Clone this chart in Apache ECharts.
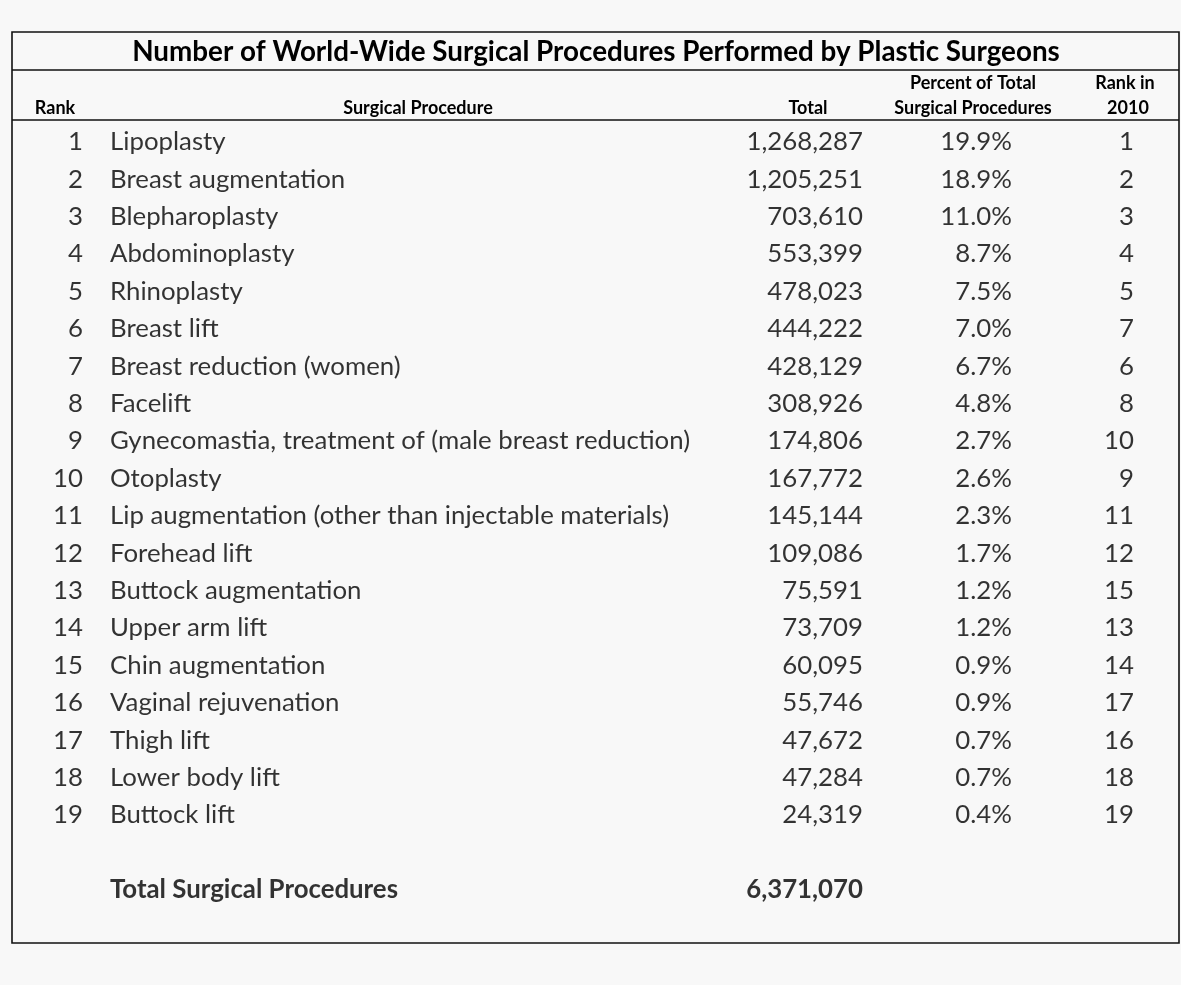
<!DOCTYPE html>
<html lang="en">
<head>
    <meta charset="UTF-8">
    <title>Surgical Procedures</title>
    <script src="https://cdn.jsdelivr.net/npm/echarts@6/dist/echarts.min.js"></script>
    <style>
        html, body { margin: 0; padding: 0; background: #f8f8f8; }
        #table_chart { width: 1181px; height: 985px; }
    </style>
</head>
<body>
    <div id="table_chart"></div>
    <script type="text/javascript">
        // table data
        var ranks = [1, 2, 3, 4, 5, 6, 7, 8, 9, 10, 11, 12, 13, 14, 15, 16, 17, 18, 19];
        var procedures = [
            'Lipoplasty', 'Breast augmentation', 'Blepharoplasty', 'Abdominoplasty', 'Rhinoplasty',
            'Breast lift', 'Breast reduction (women)', 'Facelift',
            'Gynecomastia, treatment of (male breast reduction)', 'Otoplasty',
            'Lip augmentation (other than injectable materials)', 'Forehead lift',
            'Buttock augmentation', 'Upper arm lift', 'Chin augmentation', 'Vaginal rejuvenation',
            'Thigh lift', 'Lower body lift', 'Buttock lift'
        ];
        var totals = [1268287, 1205251, 703610, 553399, 478023, 444222, 428129, 308926, 174806,
            167772, 145144, 109086, 75591, 73709, 60095, 55746, 47672, 47284, 24319];
        var percents = [19.9, 18.9, 11.0, 8.7, 7.5, 7.0, 6.7, 4.8, 2.7, 2.6, 2.3, 1.7, 1.2, 1.2,
            0.9, 0.9, 0.7, 0.7, 0.4];
        var rank2010 = [1, 2, 3, 4, 5, 7, 6, 8, 10, 9, 11, 12, 15, 13, 14, 17, 16, 18, 19];
        var totalLabel = 'Total Surgical Procedures';
        var grandTotal = 6371070;

        // rows: 19 procedures, one empty row, then the total row
        var rowNames = ranks.map(String).concat(['', 'total']);
        var totalRow = rowNames.length - 1;

        var font = 'Lato, "Open Sans", sans-serif';
        var fmt = function (v) { return v.toLocaleString('en-US'); };

        // x position of each column (pixels across the page)
        var colRank = 83, colProc = 110, colTotal = 863, colPct = 1012, colRank10 = 1134;

        function textSeries(name, x, texts, align, bold) {
            return {
                name: name,
                type: 'scatter',
                symbolSize: 1,
                itemStyle: { color: 'transparent' },
                silent: true,
                data: texts.map(function (t) { return { value: [x, t.row], txt: t.text }; }),
                label: {
                    show: true,
                    position: 'inside',
                    align: align,
                    verticalAlign: 'middle',
                    color: '#000',
                    fontFamily: font,
                    fontSize: 25.8,
                    fontWeight: bold ? 'bold' : 'normal',
                    formatter: function (p) { return p.data.txt; }
                }
            };
        }

        function rowsOf(arr, f) {
            return arr.map(function (v, i) { return { row: i, text: f(v) }; });
        }

        var myChart = echarts.init(document.getElementById('table_chart'));

        var hdr = 'bold 18px ' + font;
        function hdrText(x, y, txt) {
            return { type: 'text', x: x, y: y, style: { text: txt, font: hdr, fill: '#000',
                textAlign: 'center', textVerticalAlign: 'middle' } };
        }
        var option = {
            backgroundColor: '#f8f8f8',
            animation: false,
            grid: { left: 0, right: 0, top: 123.3, bottom: 76.5 },
            xAxis: { type: 'value', min: 0, max: 1181, show: false },
            yAxis: { type: 'category', data: rowNames, inverse: true, show: false },
            graphic: [
                { type: 'rect', shape: { x: 12, y: 32, width: 1167, height: 911 },
                  style: { fill: 'none', stroke: '#111', lineWidth: 1.6 } },
                { type: 'line', shape: { x1: 12, y1: 70, x2: 1179, y2: 70 },
                  style: { stroke: '#111', lineWidth: 1.6 } },
                { type: 'line', shape: { x1: 12, y1: 120, x2: 1179, y2: 120 },
                  style: { stroke: '#111', lineWidth: 1.6 } },
                { type: 'text', x: 596, y: 52, style: { text: 'Number of World-Wide Surgical Procedures Performed by Plastic Surgeons',
                    font: 'bold 27.8px ' + font, fill: '#000', textAlign: 'center', textVerticalAlign: 'middle' } },
                hdrText(55, 108, 'Rank'),
                hdrText(418, 108, 'Surgical Procedure'),
                hdrText(808, 108, 'Total'),
                hdrText(973, 83, 'Percent of Total'),
                hdrText(973, 108, 'Surgical Procedures'),
                hdrText(1125, 83, 'Rank in'),
                hdrText(1128, 108, '2010')
            ],
            series: [
                textSeries('Rank', colRank, rowsOf(ranks, String), 'right'),
                textSeries('Surgical Procedure', colProc, rowsOf(procedures, String), 'left'),
                textSeries('Total', colTotal, rowsOf(totals, fmt), 'right'),
                textSeries('Percent', colPct, rowsOf(percents, function (v) { return v.toFixed(1) + '%'; }), 'right'),
                textSeries('Rank in 2010', colRank10, rowsOf(rank2010, String), 'right'),
                textSeries('Total label', colProc, [{ row: totalRow, text: totalLabel }], 'left', true),
                textSeries('Grand total', colTotal, [{ row: totalRow, text: fmt(grandTotal) }], 'right', true)
            ]
        };
        myChart.setOption(option);
    </script>
</body>
</html>
